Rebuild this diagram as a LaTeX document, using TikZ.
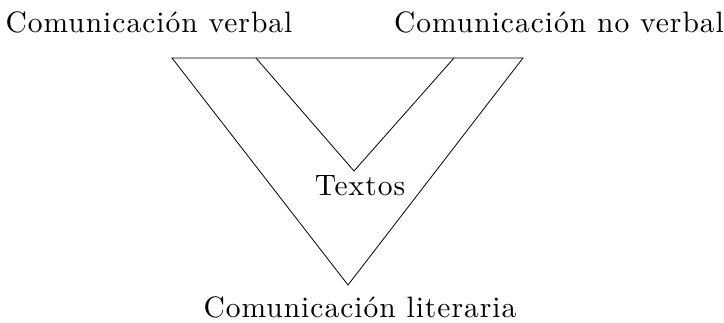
\documentclass[tikz,border=0pt]{standalone}
\usepackage{fontspec}
\newfontfamily\lblfont{lmroman10-regular.otf}[LetterSpace=3.4]
\begin{document}
\begin{tikzpicture}[x=1pt,y=-1pt,
  lbl/.style={anchor=base,inner sep=0pt,font=\lblfont\fontsize{29.5}{34}\selectfont},
  edge/.style={line width=0.8pt,line join=miter}]
\useasboundingbox (0,0) rectangle (724,322);
\coordinate (A) at (172,58);
\coordinate (B) at (523,58);
\coordinate (C) at (348,285);
\coordinate (D) at (256,58);
\coordinate (E) at (454,58);
\coordinate (F) at (354,171);
\draw[edge] (A) -- (B) -- (C) -- cycle;
\draw[edge] (D) -- (F) -- (E);
\node[lbl] (verbal) at (149,32) {Comunicación verbal};
\node[lbl] (noverbal) at (559,32) {Comunicación no verbal};
\node[lbl] (textos) at (360,195) {Textos};
\node[lbl] (literaria) at (360,317) {Comunicación literaria};
\end{tikzpicture}
\end{document}
